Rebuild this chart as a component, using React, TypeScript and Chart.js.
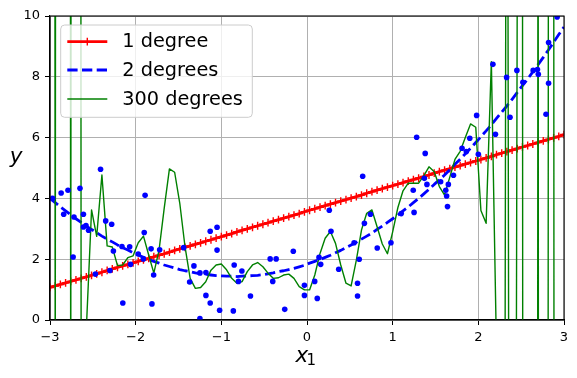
import React, { useEffect, useRef } from "react";
import { Chart, registerables } from "chart.js";

Chart.register(...registerables);

// x positions of the model curves (100 evenly spaced samples on [-3, 3])
const xNew = [
  -3, -2.939, -2.879, -2.818, -2.758, -2.697, -2.636, -2.576, -2.515, -2.455,
  -2.394, -2.333, -2.273, -2.212, -2.152, -2.091, -2.03, -1.97, -1.909, -1.848,
  -1.788, -1.727, -1.667, -1.606, -1.545, -1.485, -1.424, -1.364, -1.303, -1.242,
  -1.182, -1.121, -1.061, -1, -0.939, -0.879, -0.818, -0.758, -0.697, -0.636,
  -0.576, -0.515, -0.455, -0.394, -0.333, -0.273, -0.212, -0.152, -0.091, -0.03,
  0.03, 0.091, 0.152, 0.212, 0.273, 0.333, 0.394, 0.455, 0.515, 0.576,
  0.636, 0.697, 0.758, 0.818, 0.879, 0.939, 1, 1.061, 1.121, 1.182,
  1.242, 1.303, 1.364, 1.424, 1.485, 1.545, 1.606, 1.667, 1.727, 1.788,
  1.848, 1.909, 1.97, 2.03, 2.091, 2.152, 2.212, 2.273, 2.333, 2.394,
  2.455, 2.515, 2.576, 2.636, 2.697, 2.758, 2.818, 2.879, 2.939, 3,
];

// 1 degree model
const yDeg1 = [
  1.07, 1.12, 1.17, 1.22, 1.27, 1.32, 1.37, 1.42, 1.47, 1.52,
  1.57, 1.63, 1.68, 1.73, 1.78, 1.83, 1.88, 1.93, 1.98, 2.03,
  2.08, 2.13, 2.18, 2.23, 2.29, 2.34, 2.39, 2.44, 2.49, 2.54,
  2.59, 2.64, 2.69, 2.74, 2.79, 2.84, 2.9, 2.95, 3.0, 3.05,
  3.1, 3.15, 3.2, 3.25, 3.3, 3.35, 3.4, 3.45, 3.5, 3.56,
  3.61, 3.66, 3.71, 3.76, 3.81, 3.86, 3.91, 3.96, 4.01, 4.06,
  4.11, 4.17, 4.22, 4.27, 4.32, 4.37, 4.42, 4.47, 4.52, 4.57,
  4.62, 4.67, 4.72, 4.77, 4.83, 4.88, 4.93, 4.98, 5.03, 5.08,
  5.13, 5.18, 5.23, 5.28, 5.33, 5.38, 5.44, 5.49, 5.54, 5.59,
  5.64, 5.69, 5.74, 5.79, 5.84, 5.89, 5.94, 5.99, 6.04, 6.1,
];

// 2 degrees model
const yDeg2 = [
  4.0, 3.86, 3.72, 3.59, 3.46, 3.33, 3.21, 3.09, 2.98, 2.87,
  2.76, 2.66, 2.57, 2.47, 2.38, 2.3, 2.21, 2.14, 2.06, 1.99,
  1.93, 1.87, 1.81, 1.76, 1.71, 1.66, 1.62, 1.59, 1.55, 1.52,
  1.5, 1.48, 1.46, 1.45, 1.44, 1.44, 1.43, 1.44, 1.45, 1.46,
  1.47, 1.49, 1.52, 1.55, 1.59, 1.62, 1.66, 1.7, 1.75, 1.8,
  1.87, 1.93, 1.99, 2.06, 2.13, 2.21, 2.29, 2.38, 2.47, 2.56,
  2.66, 2.76, 2.86, 2.98, 3.09, 3.21, 3.33, 3.45, 3.59, 3.72,
  3.86, 4.0, 4.15, 4.3, 4.46, 4.61, 4.77, 4.94, 5.12, 5.29,
  5.47, 5.65, 5.84, 6.03, 6.22, 6.42, 6.63, 6.84, 7.04, 7.26,
  7.49, 7.71, 7.93, 8.16, 8.4, 8.64, 8.88, 9.14, 9.39, 9.64,
];

// 300 degrees model (edges shoot far outside the visible range)
const yDeg300 = [
  300, -5, 300, 300, -5, 300, -5, -0.3, 3.62, 2.75,
  4.77, 2.44, 2.4, 1.79, 1.81, 2.05, 2.11, 2.54, 2.76, 2.14,
  1.54, 2.3, 3.67, 4.97, 4.86, 3.84, 2.41, 1.37, 1.04, 1.07,
  1.26, 1.64, 1.81, 1.84, 1.65, 1.37, 1.21, 1.26, 1.59, 1.81,
  1.89, 1.75, 1.54, 1.37, 1.39, 1.48, 1.51, 1.37, 1.1, 0.99,
  0.99, 1.48, 2.19, 2.69, 2.91, 2.52, 1.81, 1.21, 1.12, 1.97,
  2.96, 3.51, 3.62, 3.07, 2.5, 2.18, 2.9, 3.7, 4.25, 4.5,
  4.5, 4.5, 4.75, 5.04, 4.88, 4.39, 4.11, 4.7, 5.28, 5.55,
  6.0, 6.45, 6.34, 3.6, 3.18, 8.5, -1, -60, 30, -60,
  12, 15, -300, -300, 20, -300, 15, 20, -300, -300,
];

// training instances
const xPts = [
  -2.97, -2.87, -2.79, -2.84, -2.65, -2.72, -2.61, -2.61, -2.58, -2.55,
  -2.41, -2.35, -2.28, -2.16, -2.07, -1.89, -1.9, -1.82, -1.72, -1.44,
  -1.13, -1.05, -2.73, -2.47, -2.3, -2.26, -2.15, -2.06, -1.97, -1.91,
  -1.81, -1.79, -1.37, -1.32, -1.25, -1.25, -1.18, -1.18, -1.13, -1.05,
  -1.02, -0.86, -0.85, -0.76, -0.8, -0.66, -0.43, -0.36, -0.4, -0.16,
  -0.26, -0.03, -0.03, 0.09, 0.12, 0.14, 0.16, 0.37, 0.55, 0.59,
  0.59, 0.61, 0.82, 0.26, 0.28, 0.65, 0.67, 0.74, 0.98, 1.1,
  1.25, 1.24, 1.28, 1.37, 1.38, 1.4, 1.56, 1.63, 1.62, 1.64,
  1.65, 1.71, 1.81, 1.9, 1.86, 2.0, 2.2, 1.98, 2.17, 2.33,
  2.37, 2.45, 2.52, 2.64, 2.69, 2.7, 2.79, 2.82, 2.82, 2.92,
];
const yPts = [
  4.0, 4.18, 4.27, 3.48, 4.33, 3.39, 3.48, 3.06, 3.11, 2.95,
  4.96, 3.26, 3.15, 2.42, 2.41, 4.1, 2.88, 2.34, 2.31, 2.38,
  2.92, 3.05, 2.07, 1.51, 1.63, 2.27, 0.56, 1.83, 2.17, 2.01,
  0.53, 1.48, 1.25, 1.78, 0.05, 1.55, 1.56, 0.81, 0.56, 2.3,
  0.32, 0.3, 1.81, 1.61, 1.27, 0.79, 2.01, 2.01, 1.27, 2.26,
  0.35, 1.14, 0.81, 1.27, 0.71, 2.06, 1.83, 1.67, 2.54, 1.21,
  0.79, 2.0, 2.37, 3.61, 2.92, 4.73, 3.18, 3.48, 2.54, 3.5,
  3.54, 4.27, 6.01, 4.66, 5.48, 4.46, 4.55, 4.08, 4.27, 3.73,
  4.46, 4.76, 5.65, 5.98, 5.54, 5.45, 6.11, 6.73, 8.41, 7.98,
  6.67, 8.21, 7.82, 8.21, 8.24, 8.08, 6.77, 7.79, 9.13, 9.97,
];

const xTicks = [-3, -2, -1, 0, 1, 2, 3];
const yTicks = [0, 2, 4, 6, 8, 10];
const seriesLabels = ["1 degree", "2 degrees", "300 degrees"];
const xAxisLabel = "x";
const xAxisSub = "1";
const yAxisLabel = "y";

const FONT = '"DejaVu Sans", sans-serif';

const pts = (xs: number[], ys: number[]) => xs.map((x, i) => ({ x, y: ys[i] }));
const fmt = (v: number) => (v < 0 ? "\u2212" + Math.abs(v) : String(v));

const framePlugin = {
  id: "mplFrame",
  afterDatasetsDraw(chart: any) {
    const { ctx, chartArea: a } = chart;
    ctx.save();
    ctx.strokeStyle = "#000";
    ctx.lineWidth = 1.1;
    ctx.strokeRect(a.left, a.top, a.right - a.left, a.bottom - a.top);
    ctx.restore();
  },
};

const labelsPlugin = {
  id: "mplAxisLabels",
  afterDraw(chart: any) {
    const { ctx, chartArea: a } = chart;
    const cx = (a.left + a.right) / 2;
    ctx.save();
    ctx.fillStyle = "#000";
    ctx.textBaseline = "alphabetic";
    ctx.textAlign = "left";
    ctx.font = `italic 21.5px ${FONT}`;
    ctx.fillText(xAxisLabel, cx - 11.5, a.bottom + 41.7);
    ctx.font = `15px ${FONT}`;
    ctx.fillText(xAxisSub, cx - 0.5, a.bottom + 45);
    ctx.font = `italic 21.5px ${FONT}`;
    ctx.textAlign = "center";
    ctx.fillText(yAxisLabel, 16, (a.top + a.bottom) / 2 - 5);
    ctx.restore();
  },
};

const legendPlugin = {
  id: "mplLegend",
  afterDraw(chart: any) {
    const { ctx, chartArea: a } = chart;
    const x0 = a.left + 10.7;
    const y0 = a.top + 9;
    const w = 191.6;
    const h = 92.3;
    ctx.save();
    ctx.beginPath();
    (ctx as any).roundRect(x0, y0, w, h, 4);
    ctx.fillStyle = "rgba(255,255,255,0.8)";
    ctx.fill();
    ctx.strokeStyle = "#cccccc";
    ctx.lineWidth = 1;
    ctx.stroke();

    const rows = [
      { ds: chart.data.datasets[3], dy: 16.7 },
      { ds: chart.data.datasets[2], dy: 45 },
      { ds: chart.data.datasets[1], dy: 74 },
    ];
    const hx0 = x0 + 6.6;
    const hx1 = hx0 + 40;
    rows.forEach((r, i) => {
      const y = y0 + r.dy;
      ctx.beginPath();
      ctx.setLineDash(r.ds.borderDash || []);
      ctx.lineDashOffset = 0;
      ctx.strokeStyle = r.ds.borderColor;
      ctx.lineWidth = r.ds.borderWidth;
      ctx.lineCap = "butt";
      ctx.moveTo(hx0, y);
      ctx.lineTo(hx1, y);
      ctx.stroke();
      ctx.setLineDash([]);
      if (r.ds.pointStyle === "cross") {
        const m = (hx0 + hx1) / 2;
        const rr = r.ds.pointRadius;
        ctx.beginPath();
        ctx.lineWidth = r.ds.pointBorderWidth;
        ctx.moveTo(m - rr, y);
        ctx.lineTo(m + rr, y);
        ctx.moveTo(m, y - rr);
        ctx.lineTo(m, y + rr);
        ctx.stroke();
      }
      ctx.fillStyle = "#000";
      ctx.font = `19.3px ${FONT}`;
      ctx.textAlign = "left";
      ctx.textBaseline = "middle";
      ctx.fillText(seriesLabels[i], x0 + 61.6, y + 0.5);
    });
    ctx.restore();
  },
};

export default function App() {
  const ref = useRef<HTMLCanvasElement>(null);

  useEffect(() => {
    const canvas = ref.current;
    if (!canvas) return;
    const chart = new Chart(canvas, {
      type: "scatter",
      data: {
        datasets: [
          {
            label: "instances",
            data: pts(xPts, yPts),
            showLine: false,
            pointStyle: "circle",
            pointRadius: 2.8,
            pointHoverRadius: 2.8,
            pointBackgroundColor: "#0000ff",
            pointBorderColor: "#0000ff",
            pointBorderWidth: 0,
            clip: 0,
          },
          {
            label: seriesLabels[2],
            data: pts(xNew, yDeg300),
            showLine: true,
            borderColor: "#008000",
            borderWidth: 1.4,
            pointRadius: 0,
            pointHoverRadius: 0,
            borderJoinStyle: "round",
            tension: 0,
            clip: 0,
          },
          {
            label: seriesLabels[1],
            data: pts(xNew, yDeg2),
            showLine: true,
            borderColor: "#0000ff",
            borderWidth: 2.8,
            borderDash: [10.3, 4.4],
            pointRadius: 0,
            pointHoverRadius: 0,
            borderJoinStyle: "round",
            tension: 0,
            clip: 0,
          },
          {
            label: seriesLabels[0],
            data: pts(xNew, yDeg1),
            showLine: true,
            borderColor: "#ff0000",
            borderWidth: 2.8,
            pointStyle: "cross",
            pointRadius: 3.9,
            pointHoverRadius: 3.9,
            pointBorderColor: "#ff0000",
            pointBackgroundColor: "#ff0000",
            pointBorderWidth: 1.4,
            borderJoinStyle: "round",
            tension: 0,
            clip: 0,
          },
        ] as any,
      },
      options: {
        animation: false,
        responsive: false,
        devicePixelRatio: 1,
        events: [],
        layout: { padding: { top: 16, right: 13, left: 0, bottom: 0 } },
        plugins: {
          legend: { display: false },
          tooltip: { enabled: false },
          title: { display: false },
        },
        scales: {
          x: {
            type: "linear",
            min: -3,
            max: 3,
            afterBuildTicks: (s: any) => {
              s.ticks = xTicks.map((v) => ({ value: v }));
            },
            afterFit: (s: any) => {
              s.height = 58;
            },
            ticks: {
              autoSkip: false,
              maxRotation: 0,
              color: "#000",
              padding: 5,
              font: { family: FONT, size: 13 },
              callback: (v: any) => fmt(Number(v)),
            },
            grid: {
              color: "#b0b0b0",
              lineWidth: 1,
              tickColor: "#000",
              tickLength: 5,
              drawTicks: true,
            },
            border: { display: true, color: "#000", width: 1.1 },
          },
          y: {
            type: "linear",
            min: 0,
            max: 10,
            afterBuildTicks: (s: any) => {
              s.ticks = yTicks.map((v) => ({ value: v }));
            },
            afterFit: (s: any) => {
              s.width = 50;
            },
            ticks: {
              autoSkip: false,
              color: "#000",
              padding: 5,
              font: { family: FONT, size: 13 },
              callback: (v: any) => fmt(Number(v)),
            },
            grid: {
              color: "#b0b0b0",
              lineWidth: 1,
              tickColor: "#000",
              tickLength: 5,
              drawTicks: true,
            },
            border: { display: true, color: "#000", width: 1.1 },
          },
        },
      } as any,
      plugins: [framePlugin, labelsPlugin, legendPlugin],
    });
    return () => chart.destroy();
  }, []);

  return (
    <div
      style={{
        position: "fixed",
        left: 0,
        top: 0,
        width: 577,
        height: 378,
        background: "#fff",
      }}
    >
      <canvas
        ref={ref}
        width={577}
        height={378}
        style={{ display: "block", width: 577, height: 378 }}
      />
    </div>
  );
}
